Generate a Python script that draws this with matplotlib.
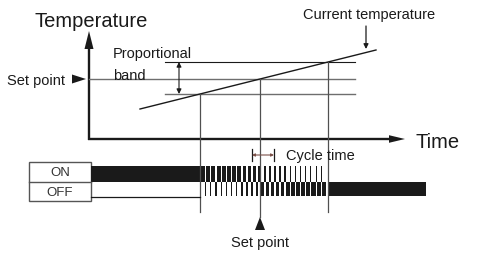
import numpy as np
import matplotlib.pyplot as plt
from matplotlib.patches import Rectangle, Polygon

plt.rcParams['font.family'] = ['Liberation Sans', 'DejaVu Sans']

# diagram units: x = time (0 at the temperature axis), y = temperature (0 at the time axis)
set_point = 60
band_upper = 77
band_lower = 45
band_start, band_end = 76, 266

ramp_t = [51, 287]      # current temperature ramp, start / end time
ramp_T = [30, 89]       # current temperature ramp, start / end temperature

# ON duty per control cycle inside the proportional band
on_duty = [0.82, 0.8, 0.78, 0.75, 0.72, 0.69, 0.66, 0.63, 0.6, 0.57, 0.54, 0.51,
           0.48, 0.45, 0.42, 0.39, 0.36, 0.33, 0.3, 0.27, 0.24, 0.21, 0.18, 0.15]
off_bar_end = 337
cycle_marker = [163, 185]
time_axis_end = 316

dark = '#1a1a1a'
gray = '#6e6e6e'

fig = plt.figure(figsize=(4.86, 2.55), dpi=100)
ax = fig.add_axes([0, 0, 1, 1])
ax.set_xlim(-89, 397)
ax.set_ylim(-115, 140)
ax.axis('off')

# axes with arrows
ax.plot([0, 0], [-1, 95], color=dark, lw=1.7, solid_capstyle='butt')
ax.add_patch(Polygon([[-4.5, 90], [4.5, 90], [0, 108]], closed=True, color=dark, lw=0))
ax.plot([-1, time_axis_end - 13], [0, 0], color=dark, lw=1.7, solid_capstyle='butt')
ax.add_patch(Polygon([[time_axis_end - 16, 3.8], [time_axis_end - 16, -3.8], [time_axis_end, 0]],
                     closed=True, color=dark, lw=0))
ax.text(-55, 113, 'Temperature', fontsize=14.5, color=dark)
ax.text(time_axis_end + 10, 0, 'Time', fontsize=14.5, color=dark, va='center_baseline')

# band lines
ax.plot([band_start, band_end], [band_upper, band_upper], color=dark, lw=0.8)
ax.plot([0, band_end], [set_point, set_point], color=gray, lw=1.0)
ax.plot([band_start, band_end], [band_lower, band_lower], color=gray, lw=1.0)

# current temperature
ax.plot(ramp_t, ramp_T, color=dark, lw=1.0)
slope = (ramp_T[1] - ramp_T[0]) / (ramp_t[1] - ramp_t[0])
cross = [ramp_t[0] + (lv - ramp_T[0]) / slope for lv in (band_lower, set_point, band_upper)]
ax.plot([cross[0], cross[0]], [band_lower, -73], color='#505050', lw=0.9)
ax.plot([cross[1], cross[1]], [set_point, -78], color='#505050', lw=0.9)
ax.plot([cross[2], cross[2]], [band_upper, -73], color='#505050', lw=0.9)

# labels
ax.text(-82, 55, 'Set point', fontsize=10.5, color=dark)
ax.add_patch(Polygon([[-17, 64.5], [-17, 55.5], [-3, 60]], closed=True, color=dark, lw=0))
ax.text(24, 82, 'Proportional', fontsize=10.5, color=dark)
ax.text(24, 60, 'band', fontsize=10.5, color=dark)
ax.annotate('', xy=(90, band_lower), xytext=(90, band_upper),
            arrowprops=dict(arrowstyle='<|-|>', color=dark, lw=0.8,
                            mutation_scale=7, shrinkA=0, shrinkB=0))
ax.text(214, 121, 'Current temperature', fontsize=10.5, color=dark)
ax.annotate('', xy=(277, 90), xytext=(277, 113),
            arrowprops=dict(arrowstyle='-|>', color=dark, lw=0.9,
                            mutation_scale=7, shrinkA=0, shrinkB=0))

# ON / OFF box
ax.add_patch(Rectangle((-60, -62), 62, 39, fill=False, edgecolor='#555555', lw=1.0))
ax.plot([-60, 2], [-42.7, -42.7], color='#555555', lw=1.0)
ax.text(-29, -33, 'ON', fontsize=9.5, color='#333333', ha='center', va='center',
        family=['Liberation Sans Narrow', 'Liberation Sans'])
ax.text(-29, -53, 'OFF', fontsize=9.5, color='#333333', ha='center', va='center',
        family=['Liberation Sans Narrow', 'Liberation Sans'])

on_lo, on_hi = -42.5, -27
off_lo, off_hi = -57, -42.5
ax.add_patch(Rectangle((2, on_lo), cross[0] - 2, on_hi - on_lo, color=dark, lw=0))
ax.plot([2, cross[0]], [-58, -58], color=dark, lw=0.9)

p_start, p_end = cross[0] + 1, cross[2] - 2
period = (p_end - p_start) / len(on_duty)
for i, d in enumerate(on_duty):
    t0 = p_start + i * period
    ax.add_patch(Rectangle((t0, on_lo), d * period, on_hi - on_lo, color=dark, lw=0))
    ax.add_patch(Rectangle((t0 + d * period, off_lo), (1 - d) * period, off_hi - off_lo,
                           color=dark, lw=0))
ax.add_patch(Rectangle((cross[2], off_lo), off_bar_end - cross[2], off_hi - off_lo,
                       color=dark, lw=0))

# cycle time marker
ax.plot([cycle_marker[0]] * 2, [-10, -22], color=dark, lw=0.9)
ax.plot([cycle_marker[1]] * 2, [-10, -22], color=dark, lw=0.9)
ax.annotate('', xy=(cycle_marker[0], -16), xytext=(cycle_marker[1], -16),
            arrowprops=dict(arrowstyle='<|-|>', color='#7a5048', lw=0.8,
                            mutation_scale=4, shrinkA=0, shrinkB=0))
ax.text(197, -20, 'Cycle time', fontsize=10.5, color=dark)

# set point marker below
ax.add_patch(Polygon([[cross[1] - 5, -91], [cross[1] + 5, -91], [cross[1], -78]],
                     closed=True, color=dark, lw=0))
ax.text(cross[1], -107, 'Set point', fontsize=10.5, color=dark, ha='center')

fig.savefig('out.png', dpi=100)
